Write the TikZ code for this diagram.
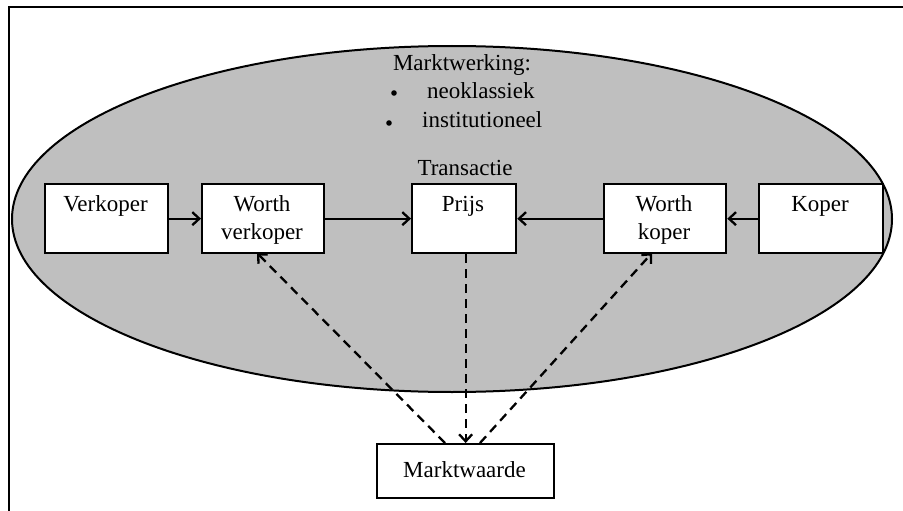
\documentclass[tikz,border=0pt]{standalone}
\usepackage{fontspec}
\setmainfont{Liberation Serif}
\usetikzlibrary{arrows.meta}
\begin{document}
\begin{tikzpicture}[x=1pt,y=-1pt,
  box/.style={draw,line width=2.3pt,fill=white,inner sep=0pt,anchor=north west},
  lbl/.style={font=\fontsize{23}{28}\selectfont,inner sep=0pt,align=center},
  arr/.style={line width=2.3pt,-{Straight Barb[length=7pt,width=13pt]}},
  darr/.style={line width=2.3pt,dash pattern=on 9pt off 6pt,-{Straight Barb[length=7pt,width=13pt]}}]
\useasboundingbox (0,0) rectangle (903,511);
\draw[line width=2.3pt] (9,511) -- (9,7) -- (903,7);
\draw[line width=2pt,fill=black!25] (452,219) ellipse [x radius=440, y radius=173];
% boxes
\node[box,minimum width=123pt,minimum height=69pt] (verk) at (44,183) {};
\node[box,minimum width=122pt,minimum height=69pt] (wv) at (201,183) {};
\node[box,minimum width=104pt,minimum height=69pt] (prijs) at (411,183) {};
\node[box,minimum width=122pt,minimum height=69pt] (wk) at (603,183) {};
\node[box,minimum width=124pt,minimum height=69pt] (koper) at (758,183) {};
\node[box,minimum width=177pt,minimum height=54pt] (mw) at (376,443) {};
% texts
\node[lbl,anchor=base] (tverk) at (105.5,211) {Verkoper};
\node[lbl,anchor=base] (twv) at (262,239) {Worth\\verkoper};
\node[lbl,anchor=base] (tprijs) at (463,211) {Prijs};
\node[lbl,anchor=base] (twk) at (664,239) {Worth\\koper};
\node[lbl,anchor=base] (tkoper) at (820,211) {Koper};
\node[lbl,anchor=base] (tmw) at (464.5,477) {Marktwaarde};
\node[lbl,anchor=base] (trans) at (465,175) {Transactie};
\node[lbl,anchor=base] (tmk) at (462,71) {Marktwerking:};
\node[lbl,anchor=base west] (tneo) at (427,99) {neoklassiek};
\node[lbl,anchor=base west] (tinst) at (422,128) {institutioneel};
\fill (394,93) circle (2.8pt);
\fill (389,123) circle (2.8pt);
% solid arrows
\draw[arr] (verk.east) -- (wv.west);
\draw[arr] (wv.east) -- (prijs.west);
\draw[arr] (wk.west) -- (prijs.east);
\draw[arr] (koper.west) -- (wk.east);
% dashed arrows
\coordinate (mwl) at (445,443);
\coordinate (mwr) at (480,443);
\coordinate (wvb) at (257,253);
\coordinate (wkb) at (652,253);
\draw[darr] (mwl) -- (wvb);
\draw[darr] (mwr) -- (wkb);
\draw[darr] (prijs.south -| mw.north) -- (mw.north);
\end{tikzpicture}
\end{document}
